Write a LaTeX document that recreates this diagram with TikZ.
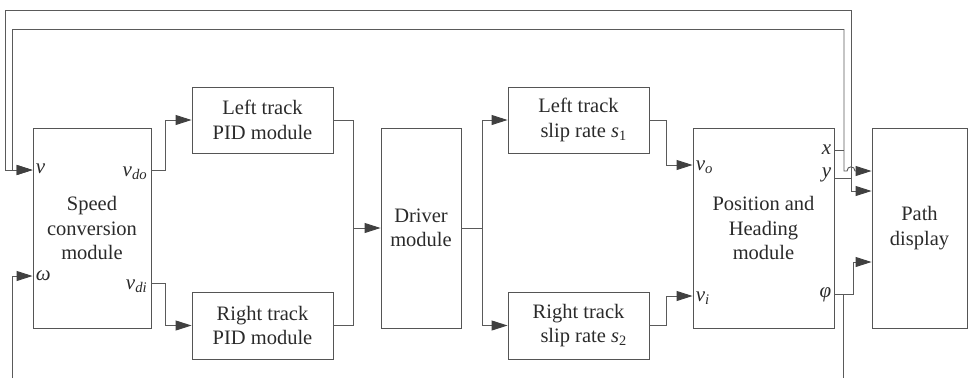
\documentclass[tikz,border=0pt]{standalone}
\usepackage{fontspec}
\setmainfont{Liberation Serif}
\usetikzlibrary{arrows.meta,calc}
\definecolor{boxc}{HTML}{555555}
\definecolor{linec}{HTML}{5A5A5A}
\definecolor{arrc}{HTML}{404040}
\definecolor{txtc}{HTML}{2A2A2A}
\newcommand\isub[2]{\textit{#1}\textsubscript{\textit{#2}}}
\begin{document}
\begin{tikzpicture}[x=1pt,y=-1pt,
  box/.style={draw=boxc, line width=0.9pt, align=center, inner sep=0pt, text=txtc,
    font={\fontsize{20.5pt}{24.5pt}\selectfont}},
  wire/.style={draw=linec, line width=0.9pt},
  arr/.style={wire, -{Triangle[length=16pt,width=10pt,color=arrc]}},
  lab/.style={font={\fontsize{21pt}{24pt}\selectfont}, inner sep=0pt, text=txtc}]
\useasboundingbox (0,0) rectangle (968,378);

% boxes
\node[box, minimum width=118pt, minimum height=200pt] (speed) at (92,228) {Speed\\conversion\\module};
\node[box, minimum width=141pt, minimum height=66pt] (lpid) at (262.5,120) {Left track\\PID module};
\node[box, minimum width=141pt, minimum height=67pt] (rpid) at (262.5,325.5) {Right track\\PID module};
\node[box, minimum width=80pt, minimum height=200pt] (drv) at (421,228) {Driver\\module};
\node[box, minimum width=141pt, minimum height=66pt] (lslip) at (578.5,120) {Left track\\\ \ slip rate \isub{s}{\upshape 1}};
\node[box, minimum width=141pt, minimum height=67pt] (rslip) at (578.5,325.5) {Right track\\\ \ slip rate \isub{s}{\upshape 2}};
\node[box, minimum width=141pt, minimum height=200pt] (pos) at (763.5,228) {Position and\\Heading\\module};
\node[box, minimum width=95pt, minimum height=200pt] (path) at (919.5,228) {Path\\display};

% ports
\coordinate (sp-v) at (speed.west |- 0,170);
\coordinate (sp-w) at (speed.west |- 0,276);
\coordinate (sp-do) at (speed.east |- 0,170);
\coordinate (sp-di) at (speed.east |- 0,283);
\coordinate (pos-vo) at (pos.west |- 0,165);
\coordinate (pos-vi) at (pos.west |- 0,296);
\coordinate (pos-x) at (pos.east |- 0,150);
\coordinate (pos-y) at (pos.east |- 0,178);
\coordinate (pos-p) at (pos.east |- 0,294);
\coordinate (pa-x) at (path.west |- 0,171);
\coordinate (pa-y) at (path.west |- 0,191);
\coordinate (pa-p) at (path.west |- 0,262);

% port labels
\node[lab, anchor=west] (lv) at ($(sp-v)+(3,-1)$) {\textit{v}};
\node[lab, anchor=west] (lw) at ($(sp-w)+(3,0)$) {\textit{ω}};
\node[lab, anchor=east] (ldo) at ($(sp-do)+(-4,3)$) {\isub{v}{do}};
\node[lab, anchor=east] (ldi) at ($(sp-di)+(-4,3)$) {\isub{v}{di}};
\node[lab, anchor=west] (lvo) at ($(pos-vo)+(3,2)$) {\isub{v}{o}};
\node[lab, anchor=west] (lvi) at ($(pos-vi)+(3,2)$) {\isub{v}{i}};
\node[lab, anchor=east] (lx) at ($(pos-x)+(-3,0)$) {\textit{x}};
\node[lab, anchor=east] (ly) at ($(pos-y)+(-3,-3)$) {\textit{y}};
\node[lab, anchor=east] (lp) at ($(pos-p)+(-3,1)$) {\textit{φ}};

% speed -> PIDs
\coordinate (j1) at (165,0);
\draw[arr] (sp-do) -- (sp-do -| j1) |- (lpid.west);
\draw[arr] (sp-di) -- (sp-di -| j1) |- (rpid.west);

% PIDs -> driver
\coordinate (j2) at (353,0);
\draw[wire] (lpid.east) -- (lpid.east -| j2) -- (rpid.east -| j2) -- (rpid.east);
\draw[arr] (drv.west -| j2) -- (drv.west);

% driver -> slips
\coordinate (j3) at (482,0);
\draw[wire] (drv.east) -- (drv.east -| j3);
\draw[arr] (drv.east -| j3) |- (lslip.west);
\draw[arr] (drv.east -| j3) |- (rslip.west);

% slips -> position
\coordinate (j4) at (666,0);
\draw[arr] (lslip.east) -- (lslip.east -| j4) |- (pos-vo);
\draw[arr] (rslip.east) -- (rslip.east -| j4) |- (pos-vi);

% x output
\coordinate (xv) at (844,0);
\coordinate (xtop) at (844,29);
\coordinate (xl) at (12,29);
\draw[wire] (pos-x) -- (pos-x -| xv);
\draw[arr] (xtop) -- (xl) |- (sp-v);
\draw[arr] (xtop) -- (844,171) -- (847,171) .. controls (847,165.5) and (855,165.5) .. (855,171) -- (pa-x);

% y output
\coordinate (yv) at (851,0);
\coordinate (ytop) at (851,10);
\coordinate (yl) at (5,10);
\draw[wire] (pos-y) -- (pos-y -| yv);
\draw[arr] (ytop) -- (ytop |- pa-y) -- (pa-y);
\draw[arr] (ytop) -- (yl) |- (sp-v);

% phi output
\coordinate (pv) at (853,0);
\coordinate (pbot) at (843,378);
\coordinate (wbot) at (12,378);
\draw[arr] (pos-p) -- (pos-p -| pv) |- (pa-p);
\draw[wire] (pos-p -| pbot) -- (pbot);
\draw[arr] (wbot) |- (sp-w);
\end{tikzpicture}
\end{document}
